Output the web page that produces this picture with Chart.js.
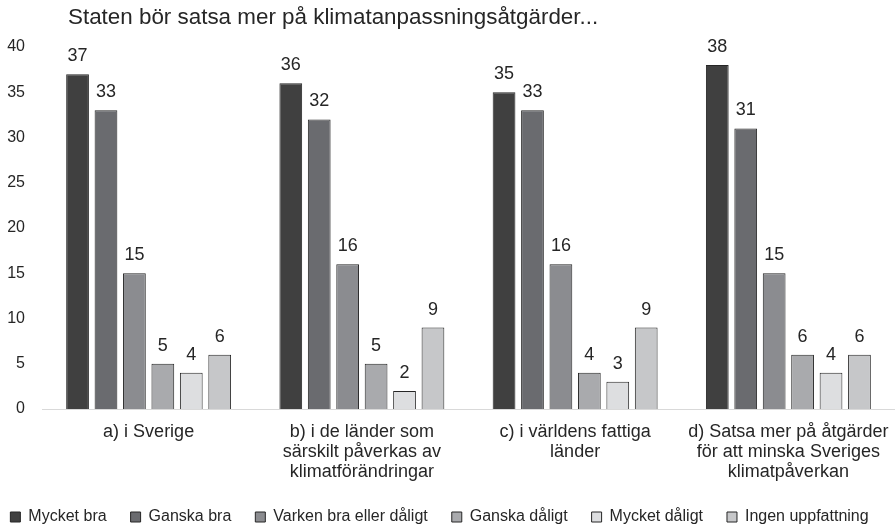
<!DOCTYPE html>
<html>
<head>
<meta charset="utf-8">
<script src="https://cdn.jsdelivr.net/npm/chart.js@4/dist/chart.umd.min.js"></script>
<style>
html,body{margin:0;padding:0;background:#fff;}
#wrap{width:895px;height:527px;position:relative;}
</style>
</head>
<body>
<div id="wrap"><canvas id="c" width="895" height="527"></canvas></div>
<script>
const titleText = "Staten bör satsa mer på klimatanpassningsåtgärder...";
const categories = [
  ["a) i Sverige"],
  ["b) i de länder som", "särskilt påverkas av", "klimatförändringar"],
  ["c) i världens fattiga", "länder"],
  ["d) Satsa mer på åtgärder", "för att minska Sveriges", "klimatpåverkan"]
];
const seriesNames = ["Mycket bra", "Ganska bra", "Varken bra eller dåligt", "Ganska dåligt", "Mycket dåligt", "Ingen uppfattning"];
const mycketBra = [37, 36, 35, 38];
const ganskaBra = [33, 32, 33, 31];
const varken = [15, 16, 16, 15];
const ganskaDaligt = [5, 5, 4, 6];
const mycketDaligt = [4, 2, 3, 4];
const ingenUppfattning = [6, 9, 9, 6];
const yTicks = [0, 5, 10, 15, 20, 25, 30, 35, 40];

const seriesValues = [mycketBra, ganskaBra, varken, ganskaDaligt, mycketDaligt, ingenUppfattning];
const colors = ["#404040", "#6a6b6f", "#8b8c90", "#a9aaad", "#dddee0", "#c6c7c9"];

const FONT = "'Liberation Sans', Arial, sans-serif";
const TEXT = "#262626";

const valueLabels = {
  id: 'valueLabels',
  afterDatasetsDraw(chart) {
    const ctx = chart.ctx;
    ctx.save();
    ctx.font = "18px " + FONT;
    ctx.fillStyle = TEXT;
    ctx.textAlign = 'center';
    ctx.textBaseline = 'alphabetic';
    chart.data.datasets.forEach((ds, i) => {
      const meta = chart.getDatasetMeta(i);
      meta.data.forEach((el, j) => {
        ctx.fillText(String(ds.data[j]), el.x, el.y - 13);
      });
    });
    ctx.restore();
  }
};

const titlePlugin = {
  id: 'leftTitle',
  afterDraw(chart) {
    const ctx = chart.ctx;
    ctx.save();
    ctx.font = "22.4px " + FONT;
    ctx.fillStyle = TEXT;
    ctx.textAlign = 'left';
    ctx.textBaseline = 'alphabetic';
    ctx.fillText(titleText, 68, 24);
    ctx.restore();
  }
};

new Chart(document.getElementById('c'), {
  type: 'bar',
  data: {
    labels: categories,
    datasets: seriesNames.map((n, i) => ({
      label: n,
      data: seriesValues[i],
      backgroundColor: colors[i],
      borderColor: "#262626",
      borderWidth: 1,
      categoryPercentage: 0.8,
      barPercentage: 0.8
    }))
  },
  options: {
    responsive: false,
    animation: false,
    devicePixelRatio: 1,
    layout: { padding: { top: 47, left: -16, right: 0, bottom: -8 } },
    plugins: {
      title: { display: false },
      tooltip: { enabled: false },
      legend: {
        position: 'bottom',
        labels: {
          font: { size: 16, family: FONT },
          color: TEXT,
          boxWidth: 10,
          boxHeight: 10,
          padding: 24
        }
      }
    },
    scales: {
      x: {
        grid: { display: false, drawTicks: false },
        border: { display: true, color: "#d9d9d9", width: 1 },
        ticks: { font: { size: 18, family: FONT, lineHeight: 1.111 }, color: TEXT, maxRotation: 0, autoSkip: false, padding: 13 },
        afterFit(scale) { scale.height = 76; scale.paddingLeft = 0; scale.paddingRight = 0; }
      },
      y: {
        min: 0,
        max: 40,
        afterBuildTicks(scale) { scale.ticks = yTicks.map(v => ({ value: v })); },
        grid: { display: false, drawTicks: false },
        border: { display: false },
        ticks: { font: { size: 16, family: FONT }, color: TEXT, padding: 17 },
        afterFit(scale) { scale.width = 58; }
      }
    }
  },
  plugins: [valueLabels, titlePlugin]
});
</script>
</body>
</html>
